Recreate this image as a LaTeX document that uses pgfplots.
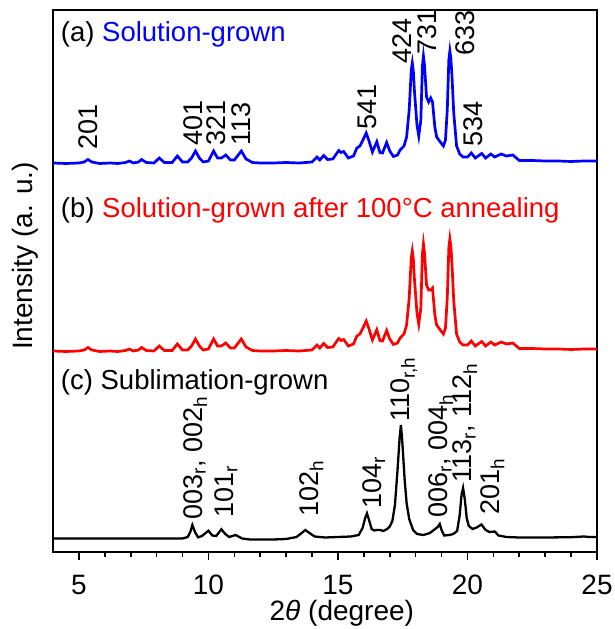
\documentclass[border=0pt]{standalone}
\usepackage{fontspec}
\setmainfont{Liberation Sans}
\usepackage{pgfplots}
\pgfplotsset{compat=1.18}
\newcommand\bigf{\fontsize{28bp}{33bp}\selectfont}
\newcommand\midf{\fontsize{27.5bp}{33bp}\selectfont}
\newcommand\labf{\fontsize{27bp}{32bp}\selectfont}
\definecolor{cblue}{RGB}{0,0,255}
\definecolor{cred}{RGB}{255,0,0}
\tikzset{lab/.style={rotate=90, anchor=west, inner sep=0pt, font=\labf, text height=19.3bp, text depth=0pt}}
\begin{document}
\begin{tikzpicture}
\begin{axis}[
  width=544bp, height=542bp, scale only axis,
  xmin=4, xmax=25, ymin=0, ymax=542,
  xtick={5,10,15,20,25}, minor x tick num=4,
  ytick=\empty,
  xtick pos=left,
  tick align=outside,
  major tick length=8bp, minor tick length=5bp,
  axis line style={line width=1.6bp},
  every tick/.style={black, line width=1.6bp},
  /pgf/number format/assume math mode=true,
  xticklabel style={font=\bigf, inner sep=0pt, anchor=north, yshift=-15bp},
  clip=false,
]
% (a) Solution-grown
\addplot[cblue, line width=2.7bp] coordinates {
(4.0,389) (4.5,388.5) (5.0,389) (5.2,390) (5.35,392.5) (5.5,390) (5.8,388.5) (6.2,389) (6.5,388.5)
(6.8,389.5) (6.95,391) (7.1,389) (7.3,390) (7.42,392.5) (7.6,389.5) (7.9,389) (8.1,394) (8.3,389.5)
(8.6,389.5) (8.8,396) (9.0,390) (9.2,390) (9.35,394) (9.5,401) (9.65,394) (9.8,390) (10.0,391)
(10.2,401) (10.35,394) (10.5,394) (10.67,397) (10.85,392) (11.0,392) (11.27,401) (11.45,393)
(11.7,389.5) (12.0,389) (12.5,389) (13.0,389.5) (13.5,389) (14.0,390) (14.19,395) (14.3,392)
(14.45,396.5) (14.6,392.5) (14.8,393) (15.03,401.5) (15.12,399.5) (15.22,400.5) (15.4,394)
(15.6,396) (15.73,404) (15.85,406) (16.0,414) (16.09,419) (16.2,411) (16.33,400) (16.5,410.3)
(16.62,399.5) (16.72,399) (16.88,409.5) (17.0,401) (17.14,395.5) (17.3,397) (17.4,402) (17.55,406)
(17.65,415) (17.75,442) (17.83,482) (17.87,489) (17.91,481) (17.95,462) (18.05,427) (18.12,416)
(18.2,432) (18.26,486) (18.3,496) (18.34,487) (18.42,455) (18.5,450) (18.58,454) (18.65,450)
(18.74,425) (18.81,415) (18.95,410) (19.07,406) (19.15,412) (19.22,442) (19.28,492) (19.32,501)
(19.36,493) (19.4,477) (19.47,439) (19.58,406) (19.7,398) (19.83,395) (20.0,395) (20.15,399)
(20.3,394) (20.55,398.5) (20.7,394) (20.9,398) (21.05,395) (21.3,398) (21.5,396) (21.75,397)
(22.0,391.5) (22.5,391.5) (23.0,391) (23.5,391) (24.0,390.5) (24.5,391) (25.0,391)
};
% (b) after annealing
\addplot[cred, line width=2.7bp] coordinates {
(4.0,201) (4.5,200.5) (5.0,201) (5.2,202) (5.35,204.5) (5.5,202) (5.8,200.5) (6.2,201) (6.5,200.5)
(6.8,201.5) (6.95,203) (7.1,201) (7.3,202) (7.42,204.5) (7.6,201.5) (7.9,201) (8.1,206) (8.3,201.5)
(8.6,201.5) (8.8,208) (9.0,202) (9.2,202) (9.35,206) (9.5,213) (9.65,206) (9.8,202) (10.0,203)
(10.2,213) (10.35,206) (10.5,206) (10.67,209) (10.85,204) (11.0,204) (11.27,213) (11.45,205)
(11.7,201.5) (12.0,201) (12.5,201) (13.0,201.5) (13.5,201) (14.0,202) (14.19,207) (14.3,204)
(14.45,208.5) (14.6,204.5) (14.8,205) (15.03,213.5) (15.12,211.5) (15.22,212.5) (15.4,206)
(15.6,208) (15.73,216) (15.85,218) (16.0,226) (16.09,231) (16.2,223) (16.33,212) (16.5,222.3)
(16.62,211.5) (16.72,211) (16.88,221.5) (17.0,213) (17.14,207.5) (17.3,209) (17.4,214) (17.55,218)
(17.65,227) (17.75,254) (17.83,294) (17.87,301) (17.91,293) (17.95,274) (18.05,239) (18.12,228)
(18.2,244) (18.26,298) (18.3,308) (18.34,299) (18.42,267) (18.5,262) (18.58,262) (18.65,264)
(18.74,237) (18.81,227) (18.95,222) (19.07,218) (19.15,224) (19.22,254) (19.28,304) (19.32,313)
(19.36,305) (19.4,289) (19.47,251) (19.58,218) (19.7,210) (19.83,207) (20.0,207) (20.15,211)
(20.3,206) (20.55,210.5) (20.7,206) (20.9,210) (21.05,207) (21.3,210) (21.5,208) (21.75,209)
(22.0,203.5) (22.5,203.5) (23.0,203) (23.5,203) (24.0,202.5) (24.5,203) (25.0,203)
};
% (c) Sublimation-grown
\addplot[black, line width=2.3bp] coordinates {
(4.0,13.5) (5.0,13.5) (6.0,13.5) (7.0,13.5) (8.0,13.5) (9.0,13.5) (9.2,15) (9.3,20) (9.38,27)
(9.48,20) (9.6,14.7) (9.75,16) (10.0,21.3) (10.15,16.5) (10.3,16) (10.5,22.7) (10.65,18) (10.8,15)
(11.05,17) (11.3,13.5) (11.6,12.5) (12.0,12.5) (12.5,12.5) (13.0,13) (13.4,15) (13.6,19) (13.74,22)
(13.9,19) (14.1,15.5) (14.5,14.5) (15.0,15) (15.5,15.5) (15.8,17) (15.95,24) (16.05,34) (16.12,38.7)
(16.2,32) (16.3,23) (16.4,21.5) (16.5,22) (16.63,22) (16.75,21) (16.9,23) (17.0,25.5) (17.1,31)
(17.2,47) (17.3,82) (17.38,114) (17.43,127) (17.48,112) (17.57,74) (17.65,49) (17.75,33) (17.9,22)
(18.05,18) (18.3,17) (18.55,19) (18.7,22) (18.85,25) (18.93,28) (19.0,22) (19.1,16.5) (19.3,17)
(19.45,18) (19.6,21) (19.7,37) (19.77,57) (19.83,64) (19.9,52) (19.97,34) (20.05,26) (20.2,23)
(20.35,24.5) (20.54,27.5) (20.7,22) (20.85,20) (21.05,20.5) (21.2,16.5) (21.5,15) (22.0,14.5)
(23.0,14.5) (24.0,14.8) (24.5,15.5) (24.7,15) (25.0,15)
};
% panel titles
\node[anchor=base west, inner sep=0pt, font=\midf] at (axis cs:4.3,510) {(a) \textcolor{cblue}{Solution-grown}};
\node[anchor=base west, inner sep=0pt, font=\midf] at (axis cs:4.3,334) {(b) \textcolor{cred}{Solution-grown after 100°C annealing}};
\node[anchor=base west, inner sep=0pt, font=\midf] at (axis cs:4.3,162) {(c) Sublimation-grown};
% peak labels (a)
\node[lab] at (axis cs:5.35,402) {201};
\node[lab] at (axis cs:9.38,406) {401};
\node[lab] at (axis cs:10.28,406) {321};
\node[lab] at (axis cs:11.24,406) {113};
\node[lab] at (axis cs:16.1,422) {541};
\node[lab] at (axis cs:17.47,488) {424};
\node[lab] at (axis cs:18.43,497) {731};
\node[lab] at (axis cs:19.9,496) {633};
\node[lab] at (axis cs:20.2,405) {534};
% peak labels (c)
\node[lab] at (axis cs:9.38,32) {003\textsubscript{r}, 002\textsubscript{h}};
\node[lab] at (axis cs:10.6,34) {101\textsubscript{r}};
\node[lab] at (axis cs:13.87,35) {102\textsubscript{h}};
\node[lab] at (axis cs:16.3,43) {104\textsubscript{r}};
\node[lab] at (axis cs:17.4,130) {110\textsubscript{r,h}};
\node[lab] at (axis cs:18.87,34) {006\textsubscript{r}, 004\textsubscript{h}};
\node[lab] at (axis cs:19.8,69) {113\textsubscript{r}, 112\textsubscript{h}};
\node[lab] at (axis cs:20.85,37) {201\textsubscript{h}};
% axis labels
\node[font=\bigf, inner sep=0pt] at (axis cs:15.15,-61) {2\textit{θ} (degree)};
\node[font=\bigf, inner sep=0pt, rotate=90] at (axis cs:2.94,296) {Intensity (a. u.)};
\end{axis}
\pgfresetboundingbox
\useasboundingbox ([xshift=-53bp,yshift=-77bp]current axis.south west) rectangle ([xshift=18bp,yshift=10bp]current axis.north east);
\end{tikzpicture}
\end{document}
